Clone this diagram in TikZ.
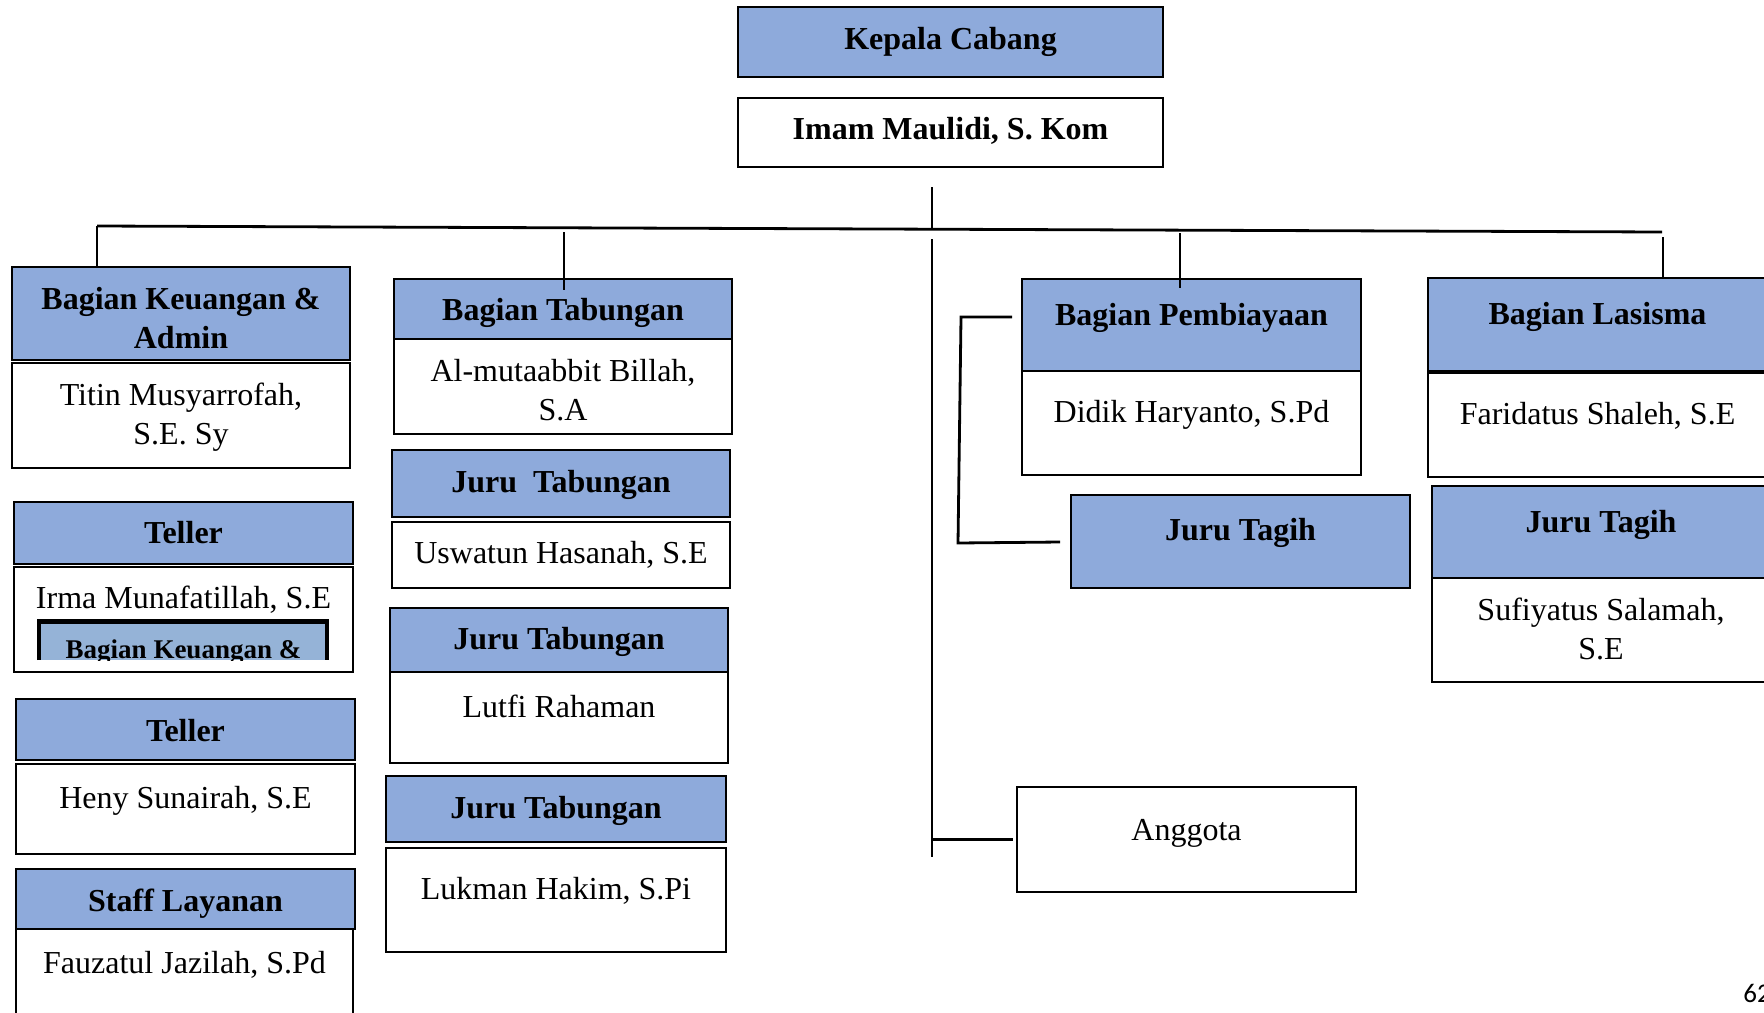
\documentclass[tikz,border=0pt]{standalone}
\usepackage{fontspec}
\setmainfont{Liberation Serif}
\newfontfamily\pagefont{Carlito}
\definecolor{hdblue}{HTML}{8EAADB}
\definecolor{inblue}{HTML}{95B3D7}
\tikzset{
  head/.style={draw, line width=1.3pt, fill=hdblue, inner sep=0pt},
  body/.style={draw, line width=1.3pt, fill=white, inner sep=0pt},
  link/.style={line width=1.4pt},
  txt/.style={align=center, inner sep=0pt, text height=1.0em, text depth=0em,
    font=\fontsize{16}{19.5}\selectfont},
  htxt/.style={txt, font=\fontsize{16}{19.5}\selectfont\bfseries},
  mtxt/.style={align=center, inner sep=0pt, font=\fontsize{16}{19.5}\selectfont},
}
\begin{document}
\begin{tikzpicture}[x=0.5pt, y=-0.5pt]
  \useasboundingbox (0,0) rectangle (1764,1012);
  \clip (0,0) rectangle (1764,1012);

  % Top
  \node[head, minimum width=212.5pt, minimum height=35pt] (kepala) at (950.5,42) {};
  \node[body, minimum width=212.5pt, minimum height=34.5pt] (imam) at (950.5,132.5) {};

  % Left column
  \node[head, minimum width=169pt, minimum height=46.5pt] (keuH) at (181,313.5) {};
  \node[body, minimum width=169pt, minimum height=52.5pt] (keuB) at (181,415.5) {};
  \node[head, minimum width=169.5pt, minimum height=31pt] (tel1H) at (183.5,533) {};
  \node[body, minimum width=169.5pt, minimum height=52.5pt] (tel1B) at (183.5,619.5) {};
  \node[head, minimum width=169.5pt, minimum height=30.5pt] (tel2H) at (185.5,729.5) {};
  \node[body, minimum width=169.5pt, minimum height=45pt] (tel2B) at (185.5,809) {};
  \node[head, minimum width=169.5pt, minimum height=30pt] (stfH) at (185.5,899) {};
  \node[body, minimum width=168.5pt, minimum height=50.5pt] (stfB) at (184.5,979.5) {};

  % Inner box, cut off at the bottom
  \fill[inblue] (39,621) rectangle (327,660);
  \begin{scope}
    \clip (37,619) rectangle (329,660);
    \node[anchor=base, inner sep=0pt, font=\fontsize{13.5}{16}\selectfont\bfseries] (innerT) at (183.5,658) {Bagian Keuangan \&};
  \end{scope}
  \draw[line width=2.3pt] (39,660) -- (39,621.5) -- (327,621.5) -- (327,660);

  % Tabungan column
  \node[head, minimum width=169pt, minimum height=30pt] (tabH) at (563,309) {};
  \node[body, minimum width=169pt, minimum height=47.5pt] (tabB) at (563,386.5) {};
  \node[head, minimum width=169pt, minimum height=33.5pt] (jt1H) at (561,483.5) {};
  \node[body, minimum width=169pt, minimum height=33pt] (jt1B) at (561,555) {};
  \node[head, minimum width=169pt, minimum height=32pt] (jt2H) at (559,640) {};
  \node[body, minimum width=169pt, minimum height=45.5pt] (jt2B) at (559,717.5) {};
  \node[head, minimum width=170pt, minimum height=33pt] (jt3H) at (556,809) {};
  \node[body, minimum width=170pt, minimum height=52pt] (jt3B) at (556,900) {};

  % Pembiayaan and Lasisma
  \node[head, minimum width=169.5pt, minimum height=46pt] (pemH) at (1191.5,325) {};
  \node[body, minimum width=169.5pt, minimum height=52pt] (pemB) at (1191.5,423) {};
  \node[head, minimum width=169.5pt, minimum height=46.5pt] (tagih1) at (1240.5,541.5) {};
  \node[head, minimum width=169.5pt, minimum height=46.5pt] (lasH) at (1597.5,324.5) {};
  \node[body, minimum width=169.5pt, minimum height=52pt] (lasB) at (1597.5,425) {};
  \node[head, minimum width=169pt, minimum height=46pt] (tagih2H) at (1601,532) {};
  \node[body, minimum width=169pt, minimum height=52pt] (tagih2B) at (1601,630) {};
  \node[body, minimum width=169.5pt, minimum height=52.5pt] (anggota) at (1186.5,839.5) {};

  % Lines
  \coordinate (busL) at (97,226);
  \coordinate (busM) at (932,229.2);
  \coordinate (busR) at (1662,232);
  \coordinate (chief) at (932,187);
  \coordinate (tabTop) at (564,232);
  \coordinate (pemTop) at (1180,233);
  \coordinate (lasTop) at (1663,237);
  \coordinate (trunkTop) at (932,239);
  \coordinate (trunkEnd) at (932,857);
  \draw[link] (busL) -- (busR);
  \draw[link] (chief) -- (busM);
  \draw[link] (busL) -- (busL |- keuH.north);
  \draw[link] (tabTop) -- ++(0,58);
  \draw[link] (pemTop) -- ++(0,55);
  \draw[link] (lasTop) -- (lasTop |- lasH.north);
  \draw[link] (trunkTop) -- (trunkEnd);
  \draw[link] (trunkTop |- anggota.west) -- ([xshift=-1.5pt]anggota.west);

  % Bracket Pembiayaan - Juru Tagih
  \coordinate (brA) at (1012,317);
  \coordinate (brB) at (961,317);
  \coordinate (brC) at (958,543);
  \coordinate (brD) at (1060,542);
  \draw[link] (brA) -- (brB) -- (brC) -- (brD);

  % Texts
  \node[htxt] (kepalaT) at (950.5,39) {Kepala Cabang};
  \node[htxt] (imamT) at (950.5,129) {Imam Maulidi, S. Kom};
  \node[mtxt, font=\fontsize{16}{19.5}\selectfont\bfseries] (keuHT) at (181,318) {Bagian Keuangan \&\\Admin};
  \node[mtxt] (keuBT) at (181,417) {Titin Musyarrofah,\\S.E. Sy};
  \node[htxt] (tel1HT) at (183.5,533) {Teller};
  \node[txt] (tel1BT) at (183.5,598) {Irma Munafatillah, S.E};
  \node[htxt] (tel2HT) at (185.5,731) {Teller};
  \node[txt] (tel2BT) at (185.5,798) {Heny Sunairah, S.E};
  \node[htxt] (stfHT) at (185.5,901) {Staff Layanan};
  \node[txt] (stfBT) at (184.5,963) {Fauzatul Jazilah, S.Pd};
  \node[htxt] (tabHT) at (563,310) {Bagian Tabungan};
  \node[mtxt] (tabBT) at (563,390) {Al-mutaabbit Billah,\\S.A};
  \node[htxt] (jt1HT) at (561,482) {Juru\ \ Tabungan};
  \node[txt] (jt1BT) at (561,553) {Uswatun Hasanah, S.E};
  \node[htxt] (jt2HT) at (559,639) {Juru Tabungan};
  \node[txt] (jt2BT) at (559,707) {Lutfi Rahaman};
  \node[htxt] (jt3HT) at (556,808) {Juru Tabungan};
  \node[txt] (jt3BT) at (556,889) {Lukman Hakim, S.Pi};
  \node[htxt] (pemHT) at (1191.5,315) {Bagian Pembiayaan};
  \node[txt] (pemBT) at (1191.5,412) {Didik Haryanto, S.Pd};
  \node[htxt] (tagih1T) at (1240.5,530) {Juru Tagih};
  \node[htxt] (lasHT) at (1597.5,314) {Bagian Lasisma};
  \node[txt] (lasBT) at (1597.5,414) {Faridatus Shaleh, S.E};
  \node[htxt] (tagih2HT) at (1601,522) {Juru Tagih};
  \node[mtxt] (tagih2BT) at (1601,628.5) {Sufiyatus Salamah,\\S.E};
  \node[txt] (anggotaT) at (1186.5,830) {Anggota};

  % Page number
  \node[anchor=base west, inner sep=0pt, font=\pagefont\fontsize{13.5}{16}\selectfont] (page) at (1743,1002) {62};
\end{tikzpicture}
\end{document}
